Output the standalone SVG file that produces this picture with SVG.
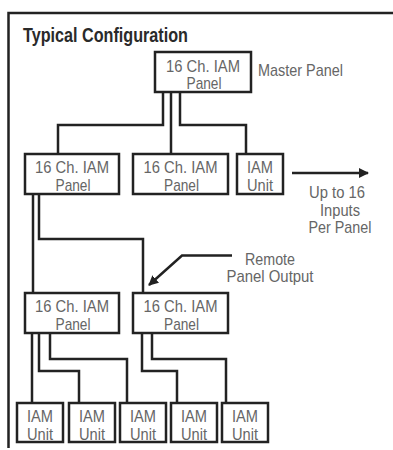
<svg xmlns="http://www.w3.org/2000/svg" width="393" height="450" viewBox="0 0 393 450">
<style>
.box{fill:#fff;stroke:#222;stroke-width:2.5}
.ln{fill:none;stroke:#222;stroke-width:2.5}
.t{font-family:"Liberation Sans",Arial,sans-serif;font-size:17px;fill:#666;text-anchor:middle}
.lab{font-family:"Liberation Sans",Arial,sans-serif;font-size:17px;fill:#666}
.title{font-family:"Liberation Sans",Arial,sans-serif;font-size:19.5px;font-weight:bold;fill:#2a2a2a}
</style>
<defs>
<marker id="ah" viewBox="0 0 10 10" refX="9" refY="5" markerWidth="4" markerHeight="4" orient="auto" markerUnits="strokeWidth">
<path d="M0,0 L10,5 L0,10 z" fill="#222"/>
</marker>
</defs>
<rect width="393" height="450" fill="#fff"/>
<g id="frame">
<path class="ln" d="M393 13 H8.5 V448"/>
<text class="title" x="23" y="42" textLength="165" lengthAdjust="spacingAndGlyphs">Typical Configuration</text>
</g>
<g id="connectors">
<path class="ln" d="M163 92 V125 H58 V154"/>
<path class="ln" d="M171 92 V154"/>
<path class="ln" d="M180 92 V125 H246 V154"/>
<path class="ln" d="M33 194 V293"/>
<path class="ln" d="M39 194 V239 H143 V293"/>
<path class="ln" d="M32 333 V403"/>
<path class="ln" d="M39 333 V371 H79 V403"/>
<path class="ln" d="M50 333 V359 H127 V403"/>
<path class="ln" d="M142 333 V371 H177 V403"/>
<path class="ln" d="M152 333 V359 H226 V403"/>
<path class="ln" d="M292 173 H368" stroke-width="2" marker-end="url(#ah)"/>
<path class="ln" d="M232 255.5 H182 L149 285" stroke-width="2" marker-end="url(#ah)"/>
</g>
<g id="master">
<rect class="box" x="155" y="52" width="96" height="40"/>
<text class="t" x="203" y="72" textLength="74" lengthAdjust="spacingAndGlyphs">16 Ch. IAM</text>
<text class="t" x="204" y="88.5" textLength="35" lengthAdjust="spacingAndGlyphs">Panel</text>
</g>
<g id="master-label">
<text class="lab" x="258" y="76" textLength="85" lengthAdjust="spacingAndGlyphs">Master Panel</text>
</g>
<g id="panel-2a">
<rect class="box" x="25" y="154" width="94" height="40"/>
<text class="t" x="72" y="173" textLength="74" lengthAdjust="spacingAndGlyphs">16 Ch. IAM</text>
<text class="t" x="73" y="190.5" textLength="35" lengthAdjust="spacingAndGlyphs">Panel</text>
</g>
<g id="panel-2b">
<rect class="box" x="133" y="154" width="95" height="40"/>
<text class="t" x="180.5" y="173" textLength="74" lengthAdjust="spacingAndGlyphs">16 Ch. IAM</text>
<text class="t" x="181.5" y="190.5" textLength="35" lengthAdjust="spacingAndGlyphs">Panel</text>
</g>
<g id="unit-2c">
<rect class="box" x="237" y="154" width="46" height="40"/>
<text class="t" x="260" y="173" textLength="26" lengthAdjust="spacingAndGlyphs">IAM</text>
<text class="t" x="260" y="190.5" textLength="26" lengthAdjust="spacingAndGlyphs">Unit</text>
</g>
<g id="inputs-label">
<text class="t" x="337" y="198" textLength="56" lengthAdjust="spacingAndGlyphs">Up to 16</text>
<text class="t" x="340" y="216" textLength="40" lengthAdjust="spacingAndGlyphs">Inputs</text>
<text class="t" x="340" y="233" textLength="63" lengthAdjust="spacingAndGlyphs">Per Panel</text>
</g>
<g id="remote-label">
<text class="t" x="270" y="265" textLength="50" lengthAdjust="spacingAndGlyphs">Remote</text>
<text class="t" x="270" y="282" textLength="87" lengthAdjust="spacingAndGlyphs">Panel Output</text>
</g>
<g id="panel-3a">
<rect class="box" x="25" y="293" width="94" height="40"/>
<text class="t" x="72" y="312" textLength="74" lengthAdjust="spacingAndGlyphs">16 Ch. IAM</text>
<text class="t" x="73" y="329.5" textLength="35" lengthAdjust="spacingAndGlyphs">Panel</text>
</g>
<g id="panel-3b">
<rect class="box" x="133" y="293" width="95" height="40"/>
<text class="t" x="180.5" y="312" textLength="74" lengthAdjust="spacingAndGlyphs">16 Ch. IAM</text>
<text class="t" x="181.5" y="329.5" textLength="35" lengthAdjust="spacingAndGlyphs">Panel</text>
</g>
<g id="unit-1">
<rect class="box" x="17" y="403" width="46" height="39"/>
<text class="t" x="40" y="422" textLength="26" lengthAdjust="spacingAndGlyphs">IAM</text>
<text class="t" x="40" y="440" textLength="26" lengthAdjust="spacingAndGlyphs">Unit</text>
</g>
<g id="unit-2">
<rect class="box" x="69" y="403" width="46" height="39"/>
<text class="t" x="92" y="422" textLength="26" lengthAdjust="spacingAndGlyphs">IAM</text>
<text class="t" x="92" y="440" textLength="26" lengthAdjust="spacingAndGlyphs">Unit</text>
</g>
<g id="unit-3">
<rect class="box" x="120" y="403" width="46" height="39"/>
<text class="t" x="143" y="422" textLength="26" lengthAdjust="spacingAndGlyphs">IAM</text>
<text class="t" x="143" y="440" textLength="26" lengthAdjust="spacingAndGlyphs">Unit</text>
</g>
<g id="unit-4">
<rect class="box" x="171" y="403" width="46" height="39"/>
<text class="t" x="194" y="422" textLength="26" lengthAdjust="spacingAndGlyphs">IAM</text>
<text class="t" x="194" y="440" textLength="26" lengthAdjust="spacingAndGlyphs">Unit</text>
</g>
<g id="unit-5">
<rect class="box" x="222" y="403" width="46" height="39"/>
<text class="t" x="245" y="422" textLength="26" lengthAdjust="spacingAndGlyphs">IAM</text>
<text class="t" x="245" y="440" textLength="26" lengthAdjust="spacingAndGlyphs">Unit</text>
</g>
</svg>
